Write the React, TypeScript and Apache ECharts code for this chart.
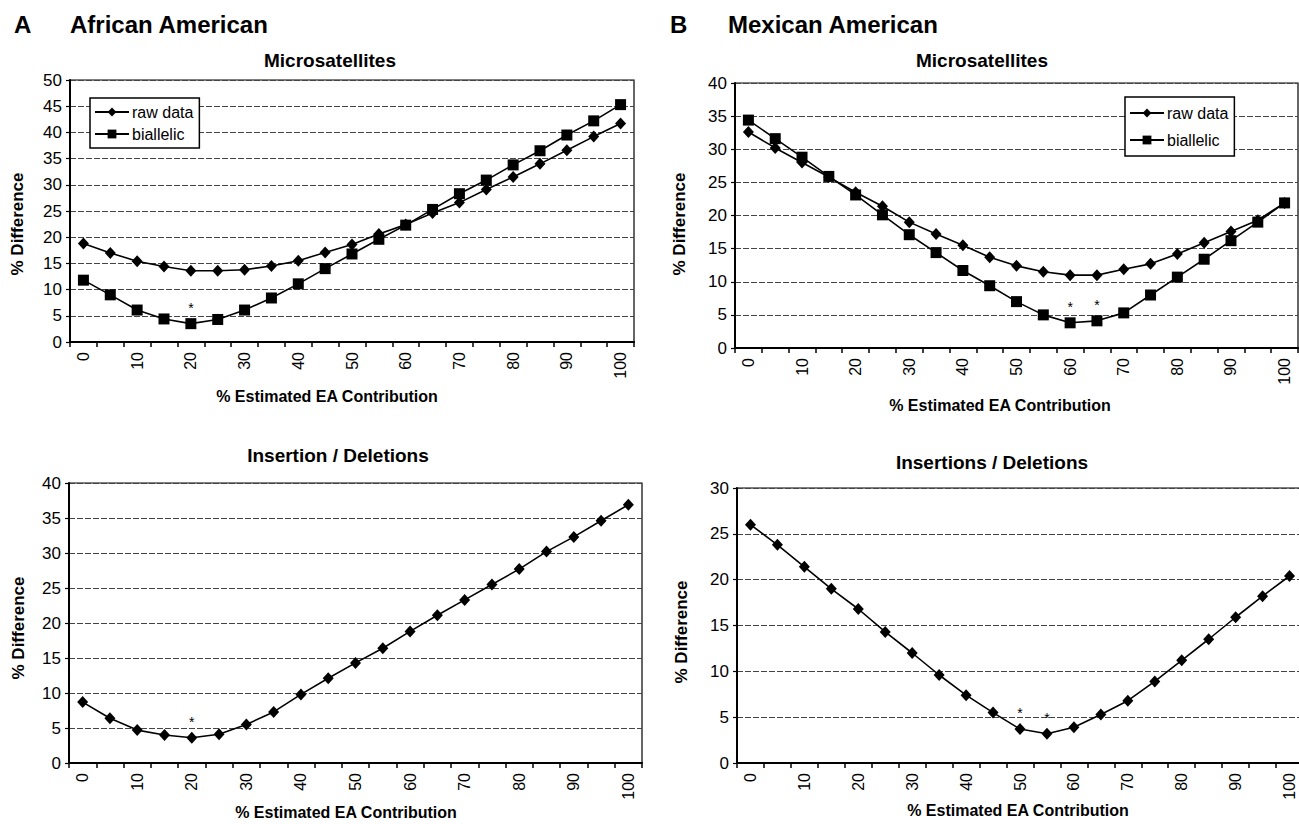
import React, { useEffect, useRef } from "react";
import * as echarts from "echarts";

const categories = ["0", "5", "10", "15", "20", "25", "30", "35", "40", "45", "50", "55", "60", "65", "70", "75", "80", "85", "90", "95", "100"];

// Panel A: African American
const aaMicroRaw = [18.8, 17.0, 15.4, 14.4, 13.6, 13.6, 13.8, 14.5, 15.5, 17.1, 18.6, 20.6, 22.4, 24.6, 26.6, 29.1, 31.5, 34.0, 36.6, 39.2, 41.7];
const aaMicroBiallelic = [11.8, 9.0, 6.1, 4.4, 3.5, 4.3, 6.1, 8.4, 11.1, 14.0, 16.8, 19.6, 22.3, 25.3, 28.3, 30.9, 33.8, 36.5, 39.5, 42.2, 45.3];
const aaMicroStars = ["20"];
const aaIndel = [8.7, 6.4, 4.7, 4.0, 3.6, 4.1, 5.5, 7.3, 9.8, 12.1, 14.3, 16.4, 18.8, 21.1, 23.3, 25.5, 27.7, 30.2, 32.3, 34.6, 36.9];
const aaIndelStars = ["20"];

// Panel B: Mexican American
const maMicroRaw = [32.6, 30.2, 28.0, 25.8, 23.5, 21.4, 19.0, 17.2, 15.5, 13.7, 12.4, 11.5, 11.0, 11.0, 11.9, 12.7, 14.2, 15.9, 17.6, 19.3, 21.9];
const maMicroBiallelic = [34.4, 31.6, 28.8, 25.9, 23.1, 20.1, 17.1, 14.4, 11.7, 9.4, 7.0, 5.0, 3.8, 4.1, 5.3, 8.0, 10.7, 13.4, 16.2, 19.0, 21.9];
const maMicroStars = ["60", "65"];
const maIndel = [26.0, 23.8, 21.4, 19.0, 16.8, 14.3, 12.0, 9.6, 7.4, 5.5, 3.7, 3.2, 3.9, 5.3, 6.8, 8.9, 11.2, 13.5, 15.9, 18.2, 20.4];
const maIndelStars = ["50", "55"];

const yMax = [50, 40, 40, 30];

const FONT = '"Liberation Sans", Arial, Helvetica, sans-serif';

function withStars(values: number[], stars: string[]) {
  return values.map((v, i) =>
    stars.includes(categories[i])
      ? {
          value: v,
          label: {
            show: true,
            formatter: "*",
            position: "top",
            distance: 3,
            color: "#000",
            fontSize: 14,
            fontFamily: FONT,
          },
        }
      : v
  );
}

const grids = [
  { left: 70, top: 80, width: 564, height: 262 },
  { left: 735, top: 83, width: 563, height: 265 },
  { left: 69, top: 483, width: 573, height: 280 },
  { left: 737, top: 488, width: 566, height: 275 },
];

function lineSeries(name: string, gi: number, data: any[], symbol: string, size: any) {
  return {
    type: "line",
    name,
    xAxisIndex: gi,
    yAxisIndex: gi,
    data,
    symbol,
    symbolSize: size,
    showSymbol: true,
    lineStyle: { color: "#000", width: 1.6 },
    itemStyle: { color: "#000" },
    emphasis: { disabled: true },
    z: 5,
  };
}

function text(t: string, x: number, y: number, size: number, align = "center", rot = 0, bold = true) {
  return {
    type: "text",
    x,
    y,
    rotation: rot,
    style: {
      text: t,
      fill: "#000",
      font: `${bold ? "bold " : ""}${size}px ${FONT}`,
      fontSize: size,
      fontWeight: bold ? "bold" : "normal",
      fontFamily: FONT,
      textAlign: align,
      align,
      textVerticalAlign: "middle",
      verticalAlign: "middle",
    },
  };
}

export default function App() {
  const ref = useRef<HTMLDivElement>(null);
  useEffect(() => {
    if (!ref.current) return;
    const chart = echarts.init(ref.current, undefined, { renderer: "svg" });
    const legendBase = {
      orient: "vertical",
      data: ["raw data", "biallelic"],
      itemWidth: 34,
      itemHeight: 11,
      borderColor: "#000",
      borderWidth: 1.5,
      backgroundColor: "#fff",
      selectedMode: false,
      textStyle: { fontSize: 16, fontFamily: FONT, color: "#000", padding: [0, 0, 0, -2] },
      z: 10,
    };
    const option: any = {
      animation: false,
      backgroundColor: "#fff",
      grid: grids.map((g) => ({ ...g, show: true, borderColor: "#000", borderWidth: 1.2, backgroundColor: "transparent" })),
      xAxis: grids.map((_, i) => ({
        type: "category",
        gridIndex: i,
        data: categories,
        boundaryGap: true,
        axisLine: { lineStyle: { color: "#000", width: 2 } },
        axisTick: { show: true, interval: 0, length: 5, lineStyle: { color: "#000", width: 1.5 } },
        axisLabel: { interval: 1, rotate: 90, margin: 10, fontSize: 16, fontFamily: FONT, color: "#000" },
        splitLine: { show: false },
      })),
      yAxis: grids.map((_, i) => ({
        type: "value",
        gridIndex: i,
        min: 0,
        max: yMax[i],
        interval: 5,
        axisLine: { show: true, lineStyle: { color: "#000", width: 2 } },
        axisTick: { show: true, length: 4, lineStyle: { color: "#000", width: 1.2 } },
        axisLabel: { margin: 8, fontSize: 17, fontFamily: FONT, color: "#000" },
        splitLine: { show: true, lineStyle: { color: "#444", width: 1, type: [6, 2] } },
      })),
      legend: [
        { ...legendBase, left: 90, top: 98, itemGap: 6, padding: [6, 6, 6, 4] },
        { ...legendBase, left: 1125, top: 97, itemGap: 11, padding: [8, 6, 8, 4] },
      ],
      series: [
        lineSeries("raw data", 0, aaMicroRaw, "diamond", [11, 12]),
        lineSeries("biallelic", 0, withStars(aaMicroBiallelic, aaMicroStars), "rect", 11),
        lineSeries("raw data", 1, maMicroRaw, "diamond", [11, 12]),
        lineSeries("biallelic", 1, withStars(maMicroBiallelic, maMicroStars), "rect", 11),
        lineSeries("indel", 2, withStars(aaIndel, aaIndelStars), "diamond", [11, 12]),
        lineSeries("indel", 3, withStars(maIndel, maIndelStars), "diamond", [11, 12]),
      ],
      graphic: [
        text("A", 14, 24, 24, "left"),
        text("African American", 70, 24, 24, "left"),
        text("B", 670, 24, 24, "left"),
        text("Mexican American", 728, 24, 24, "left"),
        text("Microsatellites", 330, 60, 19),
        text("Microsatellites", 982, 60, 19),
        text("Insertion / Deletions", 338, 455, 19),
        text("Insertions / Deletions", 992, 462, 19),
        text("% Estimated EA Contribution", 327, 396, 16),
        text("% Estimated EA Contribution", 1000, 405, 16),
        text("% Estimated EA Contribution", 346, 812, 16),
        text("% Estimated EA Contribution", 1018, 810, 16),
        text("% Difference", 17, 224, 17, "center", Math.PI / 2),
        text("% Difference", 679, 224, 17, "center", Math.PI / 2),
        text("% Difference", 18, 628, 17, "center", Math.PI / 2),
        text("% Difference", 681, 632, 17, "center", Math.PI / 2),
      ],
    };
    chart.setOption(option);
    return () => chart.dispose();
  }, []);
  return (
    <div style={{ position: "absolute", left: 0, top: 0, width: 1299, height: 824, overflow: "hidden", background: "#fff" }}>
      <div ref={ref} style={{ position: "absolute", left: 0, top: 0, width: 1330, height: 824 }} />
    </div>
  );
}
